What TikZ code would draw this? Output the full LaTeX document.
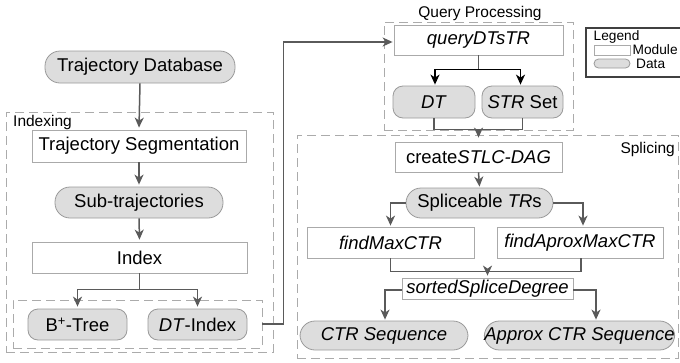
\documentclass[tikz,border=0pt]{standalone}
\usepackage{fontspec}
\setmainfont{Liberation Sans}
\usetikzlibrary{arrows.meta,calc}
\definecolor{ln}{HTML}{5A5A5A}
\definecolor{bx}{HTML}{AAAAAA}
\definecolor{pf}{HTML}{DDDDDD}
\definecolor{pb}{HTML}{9A9A9A}
\definecolor{dsh}{HTML}{ABABAB}
\begin{document}
\begin{tikzpicture}[x=1pt,y=-1pt,
  mainfont/.style={font=\fontsize{18.5}{20}\selectfont},
  module/.style={draw=bx, fill=white, line width=0.8pt, inner sep=0pt, mainfont},
  datum/.style={draw=pb, fill=pf, line width=0.8pt, rounded corners=15pt, inner sep=0pt, mainfont},
  sdatum/.style={datum, rounded corners=10pt},
  group/.style={draw=dsh, line width=0.8pt, dash pattern=on 9pt off 5pt, inner sep=0pt},
  glabel/.style={inner sep=0pt, font=\fontsize{15.5}{17}\selectfont},
  llabel/.style={inner sep=0pt, font=\fontsize{13.7}{15}\selectfont},
  conn/.style={draw=ln, line width=1.5pt},
  arr/.style={conn, -{Stealth[length=10pt,width=9pt,inset=3pt]}},
  barr/.style={arr, draw=black}
]
\useasboundingbox (0,0) rectangle (680,362);

% group boxes
\node[group, minimum width=267, minimum height=240] (gidx) at (139.5,232) {};
\node[group, minimum width=249, minimum height=48] (inner) at (137.5,324) {};
\node[group, minimum width=189, minimum height=108] (gqp) at (478.5,76) {};
\node[group, minimum width=381, minimum height=223] (gspl) at (487.5,246.5) {};
\node[glabel, anchor=west] (lidx) at (13,122) {Indexing};
\node[glabel] (lqp) at (480,13) {Query Processing};
\node[glabel, anchor=east] (lspl) at (675,149) {Splicing};

% Indexing
\node[datum, minimum width=190, minimum height=32] (tdb) at (140,67) {Trajectory Database};
\node[module, minimum width=214, minimum height=32] (tseg) at (139,146) {Trajectory Segmentation};
\node[datum, minimum width=168, minimum height=31] (sub) at (139,202.5) {Sub-trajectories};
\node[module, minimum width=215, minimum height=31] (index) at (139.5,257.5) {Index};
\node[sdatum, minimum width=99, minimum height=31] (btree) at (77.5,324.5) {B\textsuperscript{+}-Tree};
\node[sdatum, minimum width=99, minimum height=31] (dtidx) at (197.5,324.5) {\textit{DT}-Index};

% Query processing
\node[module, minimum width=169, minimum height=30] (qdt) at (478.5,40) {\textit{queryDTsTR}};
\node[sdatum, minimum width=82, minimum height=32] (dt) at (434,102) {\textit{DT}};
\node[sdatum, minimum width=81, minimum height=32] (strset) at (522.5,102) {\textit{STR} Set};

% Splicing
\node[module, minimum width=167, minimum height=30] (cdag) at (478.5,157) {create\textit{STLC-DAG}};
\node[datum, minimum width=147, minimum height=30] (splice) at (479.5,203) {Spliceable \textit{TR}s};
\node[module, minimum width=167, minimum height=31] (fmax) at (390.5,242.5) {\textit{findMaxCTR}};
\node[module, minimum width=166, minimum height=31] (faprox) at (580,242.5) {\textit{findAproxMaxCTR}};
\node[module, minimum width=171, minimum height=21] (sorted) at (487.5,288.5) {\textit{sortedSpliceDegree}};
\node[datum, minimum width=168, minimum height=29] (ctrseq) at (384,335.5) {\textit{CTR Sequence}};
\node[datum, minimum width=185, minimum height=29] (apseq) at (579.5,335.5) {\textit{Approx CTR Sequence}};

% Legend
\node[draw=black!75, line width=1.2pt, fill=white, minimum width=96, minimum height=49, inner sep=0pt] (leg) at (634,52.5) {};
\node[llabel, anchor=base west] (legt) at (593.5,40) {Legend};
\node[draw=bx, fill=white, line width=0.8pt, minimum width=36, minimum height=10, inner sep=0pt] (lmod) at (612,50) {};
\node[llabel, anchor=base west] (lmodt) at (632.5,54.5) {Module};
\node[draw=pb, fill=pf, line width=0.8pt, rounded corners=4.5pt, minimum width=36, minimum height=9, inner sep=0pt] (ldat) at (612,63.5) {};
\node[llabel, anchor=base west] (ldatt) at (636,68.5) {Data};

% connectors: indexing
\draw[arr] (tdb.south) -- ($(tseg.north)+(0,-2)$);
\draw[arr] (tseg.south) -- ($(sub.north)+(0,-2)$);
\draw[arr] (sub.south) -- ($(index.north)+(0,-2)$);
\draw[conn] (index.south) -- ++(0,16) coordinate (ifork);
\draw[conn] (ifork -| btree.north) -- (ifork -| dtidx.north);
\draw[arr] (ifork -| btree.north) -- ($(btree.north)+(0,-2)$);
\draw[arr] (ifork -| dtidx.north) -- ($(dtidx.north)+(0,-2)$);
\draw[arr] (inner.east) -- ++(21,0) |- ($(qdt.west)+(-1,2)$);

% connectors: query processing
\draw[conn] (qdt.south) -- ++(0,14) coordinate (qfork);
\draw[conn, draw=black] ($(qfork -| dt.north)+(1,0)$) -- ($(qfork -| strset.north)+(-2,0)$);
\draw[barr] ($(qfork -| dt.north)+(1,0)$) -- ($(dt.north)+(1,-1)$);
\draw[barr] ($(qfork -| strset.north)+(-2,0)$) -- ($(strset.north)+(-2,-1)$);
\draw[conn] (dt.south) -- ++(0,11) coordinate (qmerge) -| (strset.south);
\draw[arr] (qmerge -| qdt.south) -- ($(cdag.north)+(0,-4)$);

% connectors: splicing
\draw[arr] (cdag.south) -- ($(splice.north)+(0,-1)$);
\draw[arr] (splice.west) -| ($(fmax.north)+(0,-1)$);
\draw[arr] (splice.east) -| ($(faprox.north)+(3,-1)$);
\draw[conn] (fmax.south) -- ++(0,13) coordinate (fmerge) -| ($(faprox.south)+(1,0)$);
\draw[arr] (fmerge -| sorted.north) -- ($(sorted.north)+(0,-2)$);
\draw[arr] ($(sorted.west)+(0,1.5)$) -| ($(ctrseq.north)+(1,-1)$);
\draw[arr] ($(sorted.east)+(0,1.5)$) -| ($(apseq.north)+(16.5,-1)$);
\end{tikzpicture}
\end{document}
